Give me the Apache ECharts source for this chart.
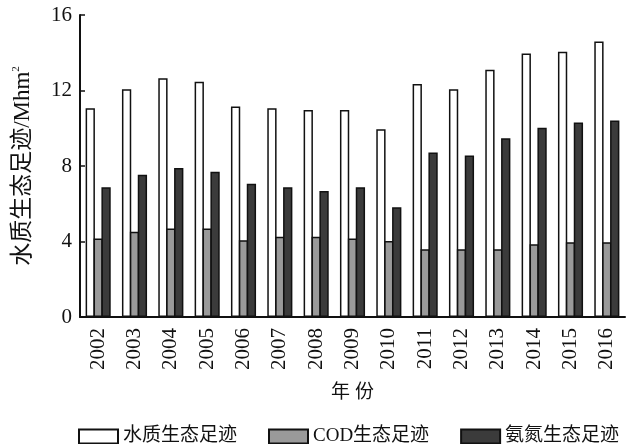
<!DOCTYPE html>
<html>
<head>
<meta charset="utf-8">
<script src="https://cdn.jsdelivr.net/npm/echarts@6/dist/echarts.min.js"></script>
<style>
  html, body { margin: 0; padding: 0; background: #fff; }
  #bar { width: 632px; height: 444px; }
</style>
</head>
<body>
<div id="bar"></div>
<script>
// 年份
var years = ['2002', '2003', '2004', '2005', '2006', '2007', '2008', '2009',
  '2010', '2011', '2012', '2013', '2014', '2015', '2016']
// 水质生态足迹
var waterFp = [11.06, 12.07, 12.65, 12.47, 11.15, 11.06, 10.97, 10.97,
  9.95, 12.35, 12.07, 13.1, 13.96, 14.05, 14.6]
// COD生态足迹
var codFp = [4.16, 4.51, 4.69, 4.69, 4.07, 4.25, 4.25, 4.16,
  4.03, 3.59, 3.59, 3.59, 3.86, 3.96, 3.96]
// 氨氮生态足迹
var nhFp = [6.87, 7.54, 7.89, 7.70, 7.06, 6.87, 6.67, 6.87,
  5.82, 8.71, 8.55, 9.47, 10.03, 10.30, 10.41]
var yTicks = [0, 4, 8, 12, 16]

var font = "'Liberation Serif', 'Noto Sans CJK SC', serif"

var myChart = echarts.init(document.getElementById('bar'))
var barStyle = function (c) {
  return { color: c, borderColor: '#111', borderWidth: 1.5 }
}
var option = {
  animation: false,
  backgroundColor: '#fff',
  textStyle: { fontFamily: font, color: '#111' },
  grid: { left: 80, right: 7, top: 15, bottom: 127 },
  legend: {
    left: 73, top: 422,
    itemWidth: 39, itemHeight: 14, itemGap: 31,
    icon: 'rect',
    textStyle: { fontSize: 19, fontFamily: font, color: '#111' },
    data: ['水质生态足迹', 'COD生态足迹', '氨氮生态足迹']
  },
  xAxis: {
    type: 'category',
    data: years,
    name: '年 份',
    nameLocation: 'middle',
    nameGap: 67,
    nameTextStyle: { fontSize: 19, fontFamily: font, color: '#111' },
    axisLine: { lineStyle: { color: '#111', width: 2 } },
    axisTick: { show: false },
    axisLabel: { rotate: 90, fontSize: 21, margin: 11, color: '#111', fontFamily: font }
  },
  yAxis: {
    type: 'value',
    min: yTicks[0], max: yTicks[yTicks.length - 1], interval: 4,
    name: '{a|水质生态足迹/Mhm}{s|2}',
    nameLocation: 'middle',
    nameGap: 45,
    nameRotate: 90,
    nameTextStyle: {
      rich: {
        a: { fontSize: 23, fontFamily: font, color: '#111' },
        s: { fontSize: 11, fontFamily: font, color: '#111', verticalAlign: 'top', padding: [0, 0, 13, 0] }
      }
    },
    axisLine: { show: true, lineStyle: { color: '#111', width: 2 } },
    axisTick: { show: true, inside: true, length: 5, lineStyle: { color: '#111', width: 1.5 } },
    splitLine: { show: false },
    axisLabel: { fontSize: 21, margin: 8, color: '#111', fontFamily: font }
  },
  series: [
    { name: '水质生态足迹', type: 'bar', data: waterFp, barWidth: 9.3, barGap: '-15%', itemStyle: barStyle('#ffffff') },
    { name: 'COD生态足迹', type: 'bar', data: codFp, barWidth: 9.3, barGap: '-15%', itemStyle: barStyle('#9a9a9a') },
    { name: '氨氮生态足迹', type: 'bar', data: nhFp, barWidth: 9.3, barGap: '-15%', itemStyle: barStyle('#3b3b3b') }
  ]
}
myChart.setOption(option)
</script>
</body>
</html>
